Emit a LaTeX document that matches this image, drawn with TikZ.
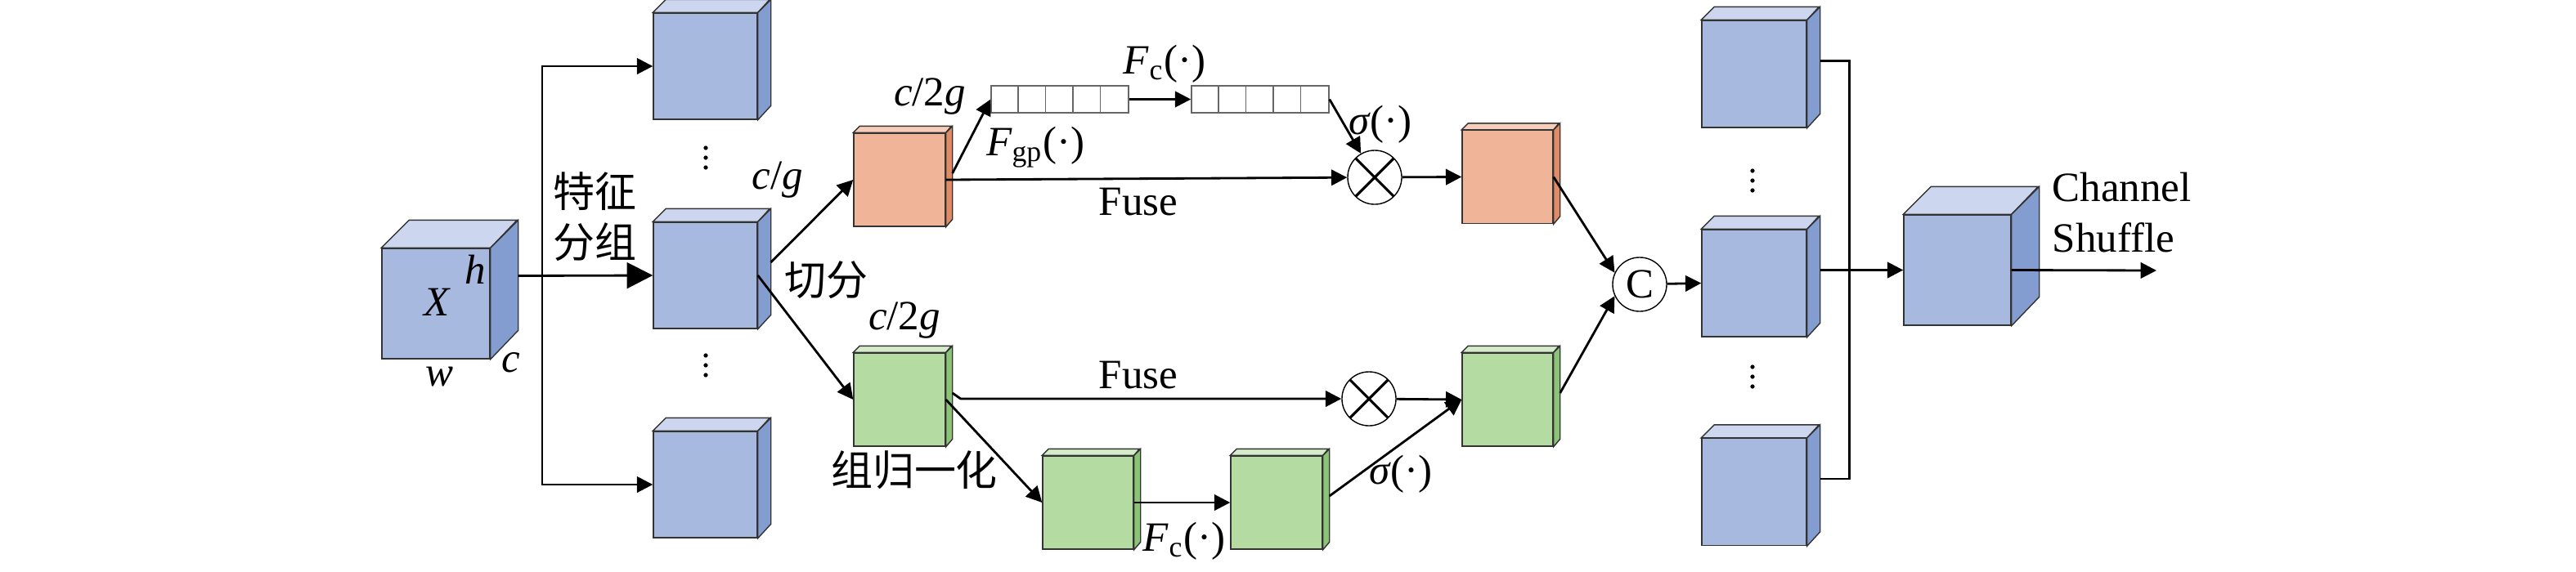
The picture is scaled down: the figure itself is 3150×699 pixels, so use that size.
\documentclass[tikz,border=0pt]{standalone}
\usepackage{fontspec}
\setmainfont{Liberation Serif}
\newfontfamily\cjk{Noto Sans CJK SC}
\usetikzlibrary{arrows.meta,calc}

\definecolor{bluefront}{HTML}{A8B9E0}
\definecolor{bluetop}{HTML}{CCD6EE}
\definecolor{blueside}{HTML}{839DD1}
\definecolor{orangefront}{HTML}{F0B598}
\definecolor{orangetop}{HTML}{F6CDB8}
\definecolor{orangeside}{HTML}{E08B65}
\definecolor{greenfront}{HTML}{B4DBA2}
\definecolor{greentop}{HTML}{D5EBC9}
\definecolor{greenside}{HTML}{8CC477}

\tikzset{
  face/.style={draw=black!80, line width=0.4pt, inner sep=0pt},
  edge/.style={draw=black!80, line width=0.4pt},
  arr/.style={-{Triangle[length=5.5pt,width=5.5pt]}, line width=0.8pt},
  bigarr/.style={-{Triangle[length=9pt,width=9pt]}, line width=0.8pt},
  plain/.style={line width=0.8pt},
  lbl/.style={font=\fontsize{14.5}{17.4}\selectfont, inner sep=0pt},
  zh/.style={font=\fontsize{14.5}{17.6}\selectfont\cjk, inner sep=0pt, align=center},
  barbox/.style={draw=black!60, line width=0.4pt, inner sep=0pt,
    minimum width=1.68cm, minimum height=0.33cm},
  otimes/.style={circle, draw, line width=0.4pt, minimum size=0.66cm, inner sep=0pt,
    path picture={\draw[line width=0.9pt]
      (path picture bounding box.north west) -- (path picture bounding box.south east)
      (path picture bounding box.north east) -- (path picture bounding box.south west);}},
  ccirc/.style={circle, draw, line width=0.4pt, minimum size=0.66cm, inner sep=0pt,
    font=\fontsize{14.5}{17.4}\selectfont},
}

% name, x, y, width, height, depth, colour
\newcommand{\cube}[7]{%
  \node[face, fill=#7front, minimum width=#4*0.01cm, minimum height=#5*0.01cm] (#1) at (#2,#3) {};
  \filldraw[edge, fill=#7top] (#1.north west) -- ++(#6,-#6) -- ++(#4,0) -- (#1.north east) -- cycle;
  \filldraw[edge, fill=#7side] (#1.north east) -- ++(#6,-#6) -- ++(0,#5) -- (#1.south east) -- cycle;
  \coordinate (#1-b) at ($(#1.east)+(#6,-#6)$);
}

\begin{document}
\begin{tikzpicture}[x=0.01cm,y=-0.01cm]
  \useasboundingbox (0,0) rectangle (3150,699);

  % input and groups
  \cube{X}{533}{371.5}{132}{135}{34}{blue}
  \cube{g1}{862.5}{81}{127}{130}{16}{blue}
  \cube{g2}{862.5}{337}{127}{130}{16}{blue}
  \cube{g3}{862.5}{593}{127}{130}{16}{blue}

  % split branches
  \cube{o1}{1100}{220}{112}{114}{8}{orange}
  \cube{n1}{1100}{489}{112}{114}{8}{green}
  \cube{n2}{1330.5}{615}{111}{114}{8}{green}
  \cube{n3}{1561}{615}{112}{114}{8}{green}
  \cube{o2}{1843.5}{216.5}{111}{114}{8}{orange}
  \cube{n4}{1843.5}{489}{111}{114}{8}{green}

  % concatenated groups and output
  \cube{s1}{2145}{90.5}{128}{131}{16}{blue}
  \cube{s2}{2145}{346.5}{128}{131}{16}{blue}
  \cube{s3}{2145}{602}{128}{131}{16}{blue}
  \cube{f}{2393.5}{330.5}{131}{135}{34}{blue}

  % channel vectors
  \node[barbox] (bar1) at (1296,121.5) {};
  \node[barbox] (bar2) at (1541,121.5) {};
  \foreach \b in {bar1,bar2}
    \foreach \i in {1,...,4}
      \draw[draw=black!60, line width=0.4pt]
        ($(\b.north west)+(33.6*\i,0)$) -- ($(\b.south west)+(33.6*\i,0)$);

  \node[otimes] (ot1) at (1681,217) {};
  \node[otimes] (ot2) at (1674,488) {};
  \node[ccirc] (cc) at (2005,348) {C};
  \coordinate (split) at (663,337);
  \coordinate (out) at (2637,331);

  % vertical dots
  \foreach \x/\y in {863/193, 863/447, 2143/221, 2143/461}
    \foreach \d in {-12,0,12}
      \fill (\x,\y+\d) circle[radius=0.75pt];

  % connectors
  \draw[bigarr] (X-b) -- (g2.west);
  \draw[arr] (split) |- (g1);
  \draw[arr] (split) |- (g3);
  \draw[arr] (g2-b) -- (o1.west);
  \draw[arr] (g2.east) -- (n1.west);
  \draw[arr] (o1-b) -- (bar1.west);
  \draw[arr] (bar1.east) -- (bar2.west);
  \draw[arr] (bar2.east) -- (ot1);
  \draw[arr] (o1.east) -- (ot1);
  \draw[arr] (ot1) -- (o2.west);
  \draw[arr] (n1-b) -- ++(10,7) -- (ot2);
  \draw[arr] (ot2) -- (n4.west);
  \draw[arr] (n1.east) -- (n2.west);
  \draw[arr] (n2.east) -- (n3.west);
  \draw[arr] (n3-b) -- (n4.west);
  \draw[arr] (o2.east) -- (cc.155);
  \draw[arr] (n4-b) -- (cc.205);
  \draw[arr] (cc) -- (s2.west);
  \draw[plain] (s1-b) -- ++(36,0) |- (s3-b);
  \draw[arr] (s2-b) -- (f.west);
  \draw[arr] (f.east) -- (out);

  % labels
  \node[lbl] (lh) at (581,330) {\textit{h}};
  \node[lbl] (lx) at (535,370) {\textit{X}};
  \node[lbl] (lc) at (625,444) {\textit{c}};
  \node[lbl] (lw) at (538,461) {\textit{w}};
  \node[zh] (lgroup) at (727,265) {特征\\分组};
  \node[lbl] (lcg) at (951,220) {\textit{c}/\textit{g}};
  \node[zh] (lcut) at (1010,343) {切分};
  \node[lbl] (lc2a) at (1137,118) {\textit{c}/2\textit{g}};
  \node[lbl] (lc2b) at (1106,392) {\textit{c}/2\textit{g}};
  \node[lbl] (lfgp) at (1266,180) {\textit{F}\textsubscript{gp}(·)};
  \node[lbl] (lfc1) at (1424,78) {\textit{F}\textsubscript{c}(·)};
  \node[lbl] (lfuse1) at (1392,247) {Fuse};
  \node[lbl] (lfuse2) at (1392,459) {Fuse};
  \node[lbl] (lsig1) at (1688,152) {\textit{σ}(·)};
  \node[lbl] (lsig2) at (1713,580) {\textit{σ}(·)};
  \node[zh] (lnorm) at (1118,575) {组归一化};
  \node[lbl] (lfc2) at (1448,662) {\textit{F}\textsubscript{c}(·)};
  \node[lbl, anchor=west, align=left] (lshuf) at (2509,260) {Channel\\Shuffle};
\end{tikzpicture}
\end{document}
